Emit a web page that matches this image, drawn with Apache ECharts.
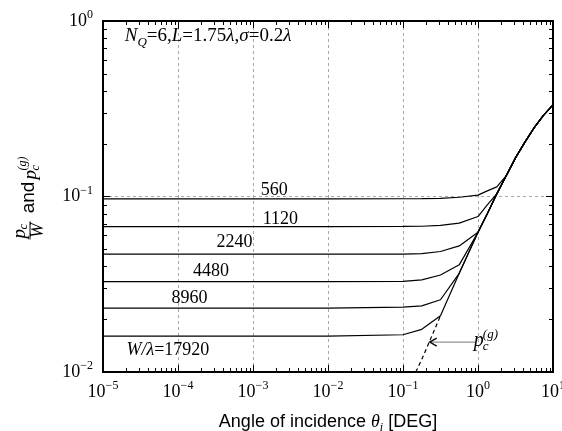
<!DOCTYPE html>
<html><head><meta charset="utf-8">
<script src="https://cdn.jsdelivr.net/npm/echarts@6/dist/echarts.min.js"></script>
<style>html,body{margin:0;padding:0;background:#fff}#c{width:562px;height:431px}</style>
</head><body><div id="c"></div>
<script>
// ---- data ----
const angles = [1e-5, 1e-2, 0.1, 0.178, 0.316, 0.562, 1, 1.33, 1.78, 2.37, 3.16, 4.22, 5.62, 7.5, 10];
const wLambda560   = [0.0970, 0.0970, 0.0971, 0.0972, 0.0975, 0.0990, 0.1018, 0.1077, 0.1135, 0.131, 0.166, 0.204, 0.247, 0.291, 0.333];
const wLambda1120  = [0.0674, 0.0674, 0.0675, 0.0677, 0.0684, 0.0705, 0.0769, 0.0895, 0.1035, 0.131, 0.166, 0.204, 0.247, 0.291, 0.333];
const wLambda2240  = [0.0469, 0.0469, 0.0470, 0.0473, 0.0486, 0.0523, 0.0625, 0.0798, 0.1035, 0.131, 0.166, 0.204, 0.247, 0.291, 0.333];
const wLambda4480  = [0.0327, 0.0327, 0.0328, 0.0335, 0.0357, 0.0408, 0.0625, 0.0798, 0.1035, 0.131, 0.166, 0.204, 0.247, 0.291, 0.333];
const wLambda8960  = [0.0231, 0.0231, 0.0234, 0.0238, 0.0258, 0.0365, 0.0625, 0.0798, 0.1035, 0.131, 0.166, 0.204, 0.247, 0.291, 0.333];
const wLambda17920 = [0.0160, 0.0160, 0.0163, 0.0175, 0.0209, 0.0365, 0.0625, 0.0798, 0.1035, 0.131, 0.166, 0.204, 0.247, 0.291, 0.333];
const pgAngles = [0.148, 0.178, 0.316];
const pgValues = [0.0100, 0.0118, 0.0209];
const curveNames = ['560', '1120', '2240', '4480', '8960', '17920'];
const xTickExponents = [-5, -4, -3, -2, -1, 0, 1];
const yTickExponents = [-2, -1, 0];
const minorMultipliers = [2, 3, 4, 5, 6, 7, 8, 9];
const xDecades = [1e-5, 1e-4, 1e-3, 1e-2, 1e-1, 1];
const yDecades = [1e-2, 1e-1];
// label anchors (data coords: angle, value)
const curveLabelAnchors = [[0.00127, 0.108], [0.00135, 0.0743], [3.25e-4, 0.0546], [1.58e-4, 0.0373], [8.2e-5, 0.0263], [2.05e-5, 0.01334]];

const SERIF = 'Liberation Serif';
const SANS = 'Liberation Sans';
const allCurves = [wLambda560, wLambda1120, wLambda2240, wLambda4480, wLambda8960, wLambda17920];

const xMinor = [];
xDecades.forEach(d => minorMultipliers.forEach(m => xMinor.push(m * d)));
const yMinor = [];
yDecades.forEach(d => minorMultipliers.forEach(m => yMinor.push(m * d)));

function expLabel(v) {
  const e = Math.round(Math.log10(v));
  const s = e < 0 ? '\u2212' + (-e) : String(e);
  return '{b|10}{sup|' + s + '}';
}
const labelRich = {
  b: {fontFamily: SERIF, fontSize: 18, color: '#000', lineHeight: 24, verticalAlign: 'middle'},
  sup: {fontFamily: SERIF, fontSize: 12, color: '#000', lineHeight: 12, verticalAlign: 'top'}
};

const chart = echarts.init(document.getElementById('c'), null, {renderer: 'canvas'});

const series = allCurves.map((vals, i) => ({
  name: 'W/\u03bb=' + curveNames[i],
  type: 'line',
  data: angles.map((a, j) => [a, vals[j]]),
  showSymbol: false,
  lineStyle: {color: '#000', width: 1.2},
  z: 4,
  silent: true
}));
series.push({
  name: 'pg',
  type: 'line',
  data: pgAngles.map((a, j) => [a, pgValues[j]]),
  showSymbol: false,
  lineStyle: {color: '#000', width: 1.2, type: [4, 3]},
  z: 4,
  silent: true
});
series.push({
  type: 'custom',
  silent: true,
  z: 6,
  data: xMinor.map(v => [v, 0.1]),
  renderItem: function (params, api) {
    const p = api.coord([api.value(0), 0.1]);
    const cs = params.coordSys;
    const x = Math.round(p[0]) + 0.5;
    return {type: 'group', children: [
      {type: 'line', shape: {x1: x, y1: cs.y + cs.height, x2: x, y2: cs.y + cs.height - 4}, style: {stroke: '#000', lineWidth: 1}},
      {type: 'line', shape: {x1: x, y1: cs.y, x2: x, y2: cs.y + 4}, style: {stroke: '#000', lineWidth: 1}}
    ]};
  }
});
series.push({
  type: 'custom',
  silent: true,
  z: 6,
  data: yMinor.map(v => [1e-3, v]),
  renderItem: function (params, api) {
    const p = api.coord([1e-3, api.value(1)]);
    const cs = params.coordSys;
    const y = Math.round(p[1]) + 0.5;
    return {type: 'group', children: [
      {type: 'line', shape: {x1: cs.x, y1: y, x2: cs.x + 4, y2: y}, style: {stroke: '#000', lineWidth: 1}},
      {type: 'line', shape: {x1: cs.x + cs.width, y1: y, x2: cs.x + cs.width - 4, y2: y}, style: {stroke: '#000', lineWidth: 1}}
    ]};
  }
});

const axisLine = {show: true, lineStyle: {color: '#000', width: 2}};
const axisTick = {show: true, inside: true, length: 7, lineStyle: {color: '#000', width: 1}};
const split = {show: true, lineStyle: {color: '#a8a8a8', width: 1, type: [3, 3]}};

const option = {
  animation: false,
  backgroundColor: '#fff',
  grid: {left: 103, right: 9, top: 21, bottom: 59, containLabel: false, outerBoundsMode: 'none'},
  xAxis: [
    {type: 'log', logBase: 10, min: 1e-5, max: 10, position: 'bottom',
     axisLine, axisTick, splitLine: split,
     axisLabel: {margin: 8, formatter: expLabel, rich: labelRich, showMinLabel: true, showMaxLabel: true, hideOverlap: false},
     name: '{n|Angle of incidence }{t|\u03b8}{s|i}{n| [DEG]}',
     nameLocation: 'middle', nameGap: 38,
     nameTextStyle: {rich: {
       n: {fontFamily: SANS, fontSize: 18, color: '#000', lineHeight: 24},
       t: {fontFamily: SERIF, fontStyle: 'italic', fontSize: 18, color: '#000', lineHeight: 24},
       s: {fontFamily: SERIF, fontStyle: 'italic', fontSize: 12, color: '#000', lineHeight: 12, verticalAlign: 'bottom'}
     }}},
    {type: 'log', logBase: 10, min: 1e-5, max: 10, position: 'top', z: 3,
     axisLine, axisTick, splitLine: {show: false}, axisLabel: {show: false}}
  ],
  yAxis: [
    {type: 'log', logBase: 10, min: 0.01, max: 1, position: 'left',
     axisLine, axisTick, splitLine: split,
     axisLabel: {margin: 10, formatter: expLabel, rich: labelRich, showMinLabel: true, showMaxLabel: true, hideOverlap: false}},
    {type: 'log', logBase: 10, min: 0.01, max: 1, position: 'right', z: 3,
     axisLine, axisTick, splitLine: {show: false}, axisLabel: {show: false}}
  ],
  series
};
chart.setOption(option);

function px(x, y) { return chart.convertToPixel({seriesIndex: 0}, [x, y]); }

const txtRich = {
  n: {fontFamily: SERIF, fontSize: 18, fill: '#000', lineHeight: 26},
  i: {fontFamily: SERIF, fontStyle: 'italic', fontSize: 18, fill: '#000', lineHeight: 26},
  s: {fontFamily: SERIF, fontStyle: 'italic', fontSize: 12, fill: '#000', lineHeight: 12, verticalAlign: 'bottom'}
};

const graphics = [];
curveLabelAnchors.forEach((a, i) => {
  const p = px(a[0], a[1]);
  const text = i === 5 ? '{i|W/\u03bb}{n|=' + curveNames[i] + '}' : '{n|' + curveNames[i] + '}';
  graphics.push({type: 'text', x: p[0], y: p[1], z: 10,
    style: {text, rich: txtRich, align: 'left', verticalAlign: 'middle', fill: '#000'}});
});
// parameter annotation
(function () {
  const p = px(1.95e-5, 0.817);
  graphics.push({type: 'text', x: p[0], y: p[1], z: 10,
    style: {text: '{i|N}{s|Q}{n|=6,}{i|L}{n|=1.75}{i|\u03bb}{n|,}{i|\u03c3}{n|=0.2}{i|\u03bb}',
      rich: {
        n: {fontFamily: SERIF, fontSize: 19, fill: '#000', lineHeight: 26},
        i: {fontFamily: SERIF, fontStyle: 'italic', fontSize: 19, fill: '#000', lineHeight: 26},
        s: {fontFamily: SERIF, fontStyle: 'italic', fontSize: 13, fill: '#000', lineHeight: 13, verticalAlign: 'bottom'}
      }, align: 'left', verticalAlign: 'middle'}});
})();
// p_c^(g) arrow annotation
(function () {
  const a = px(0.93, 0.0148);
  const b = px(0.227, 0.0148);
  graphics.push({type: 'line', z: 10, shape: {x1: a[0], y1: a[1], x2: b[0], y2: b[1]}, style: {stroke: '#777', lineWidth: 1}});
  graphics.push({type: 'polyline', z: 10, shape: {points: [[b[0] + 7, b[1] - 4], [b[0], b[1]], [b[0] + 7, b[1] + 4]]}, style: {stroke: '#000', lineWidth: 1.3, fill: null}});
  const t = px(0.88, 0.0150);
  graphics.push({type: 'text', x: t[0], y: t[1], z: 10, style: {text: 'p', fontFamily: SERIF, fontStyle: 'italic', fontSize: 20, fill: '#000', align: 'left', verticalAlign: 'middle'}});
  graphics.push({type: 'text', x: t[0] + 9, y: t[1] + 5, z: 10, style: {text: 'c', fontFamily: SERIF, fontStyle: 'italic', fontSize: 13, fill: '#000', align: 'left', verticalAlign: 'middle'}});
  graphics.push({type: 'text', x: t[0] + 9, y: t[1] - 7, z: 10, style: {text: '(g)', fontFamily: SERIF, fontStyle: 'italic', fontSize: 13, fill: '#000', align: 'left', verticalAlign: 'middle'}});
})();
// y-axis title (rotated group)
(function () {
  const cx = 29, cy = (px(1e-5, 0.01)[1] + px(1e-5, 1)[1]) / 2 - 2;
  graphics.push({type: 'group', x: cx, y: cy, rotation: Math.PI / 2, z: 10, children: [
    {type: 'text', x: -44, y: -9, style: {text: 'p', fontFamily: SERIF, fontStyle: 'italic', fontSize: 19, fill: '#000', align: 'left', verticalAlign: 'middle'}},
    {type: 'text', x: -35, y: -5, style: {text: 'c', fontFamily: SERIF, fontStyle: 'italic', fontSize: 13, fill: '#000', align: 'left', verticalAlign: 'middle'}},
    {type: 'line', shape: {x1: -45, y1: 1, x2: -27, y2: 1}, style: {stroke: '#000', lineWidth: 1}},
    {type: 'text', x: -36, y: 9, style: {text: 'W', fontFamily: SERIF, fontStyle: 'italic', fontSize: 18, fill: '#000', align: 'center', verticalAlign: 'middle'}},
    {type: 'text', x: -3, y: 0, style: {text: 'and', fontFamily: SANS, fontSize: 19, fill: '#000', align: 'center', verticalAlign: 'middle'}},
    {type: 'text', x: 15, y: 2, style: {text: 'p', fontFamily: SERIF, fontStyle: 'italic', fontSize: 19, fill: '#000', align: 'left', verticalAlign: 'middle'}},
    {type: 'text', x: 24, y: 7, style: {text: 'c', fontFamily: SERIF, fontStyle: 'italic', fontSize: 12, fill: '#000', align: 'left', verticalAlign: 'middle'}},
    {type: 'text', x: 24, y: -6, style: {text: '(g)', fontFamily: SERIF, fontStyle: 'italic', fontSize: 12, fill: '#000', align: 'left', verticalAlign: 'middle'}}
  ]});
})();
chart.setOption({graphic: graphics});
</script>
</body></html>
